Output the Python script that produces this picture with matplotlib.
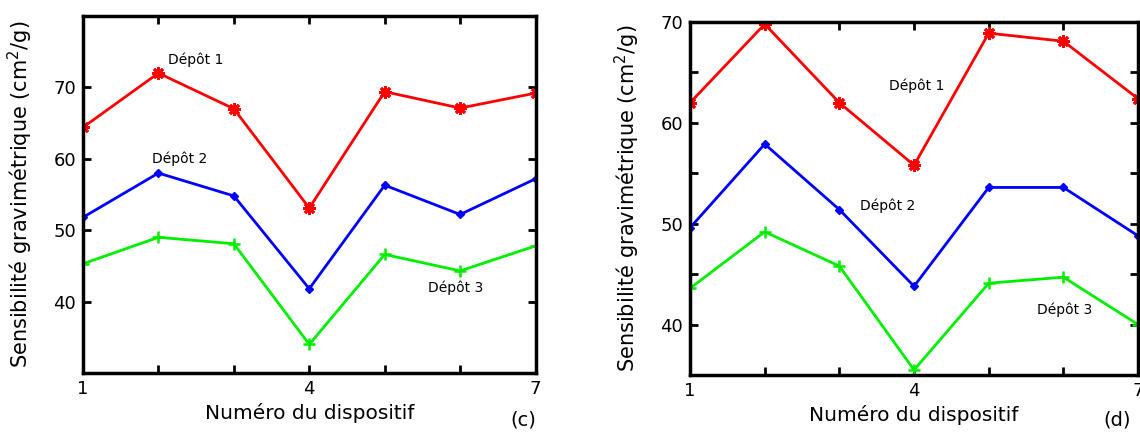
import matplotlib.pyplot as plt

devices = [1, 2, 3, 4, 5, 6, 7]

# panel (c)
c_dep1 = [64.4, 72.0, 67.0, 53.1, 69.4, 67.1, 69.2]
c_dep2 = [51.8, 58.0, 54.8, 41.8, 56.3, 52.2, 57.2]
c_dep3 = [45.3, 49.0, 48.1, 34.0, 46.6, 44.3, 47.8]

# panel (d)
d_dep1 = [62.0, 69.8, 62.0, 55.8, 68.9, 68.1, 62.4]
d_dep2 = [49.6, 57.9, 51.4, 43.8, 53.6, 53.6, 48.8]
d_dep3 = [43.6, 49.2, 45.8, 35.5, 44.1, 44.7, 40.0]

xtick_labels = ["1", "", "", "4", "", "", "7"]
ylabel = "Sensibilité gravimétrique (cm$^2$/g)"
xlabel = "Numéro du dispositif"

star = (8, 2, 0)


def draw(ax, d1, d2, d3, yticks, ylabels, ylim):
    ax.plot(devices, d1, color="#ff0000", lw=2, marker=star, ms=9, mew=2)
    ax.plot(devices, d2, color="#0000ff", lw=2, marker="D", ms=4)
    ax.plot(devices, d3, color="#00ee00", lw=2, marker="+", ms=8, mew=1.8)
    ax.set_xlim(1, 7)
    ax.set_ylim(*ylim)
    ax.set_xticks(devices)
    ax.set_xticklabels(xtick_labels)
    ax.set_yticks(yticks)
    ax.set_yticklabels(ylabels)
    ax.tick_params(direction="in", top=True, right=True, length=6, width=2,
                   labelsize=13, pad=5)
    for s in ax.spines.values():
        s.set_linewidth(2.5)
    ax.set_xlabel(xlabel, fontsize=14.5, labelpad=4)
    ax.set_ylabel(ylabel, fontsize=15, labelpad=13)


fig = plt.figure(figsize=(11.4, 4.33), dpi=100)

ax1 = fig.add_axes([0.0728, 0.1386, 0.397, 0.8245])
draw(ax1, c_dep1, c_dep2, c_dep3, [40, 50, 60, 70], ["40", "50", "60", "70"], (30, 80))
ax1.text(2.13, 73.9, "Dépôt 1", fontsize=10, va="center")
ax1.text(1.91, 60.0, "Dépôt 2", fontsize=10, va="center")
ax1.text(5.57, 42.0, "Dépôt 3", fontsize=10, va="center")
fig.text(523 / 1140, 1 - 420 / 433, "(c)", fontsize=14, ha="center", va="center")

ax2 = fig.add_axes([0.6053, 0.134, 0.393, 0.815])
draw(ax2, d_dep1, d_dep2, d_dep3, [40, 45, 50, 55, 60, 65, 70],
     ["40", "", "50", "", "60", "", "70"], (35, 70))
ax2.text(3.66, 63.7, "Dépôt 1", fontsize=10, va="center")
ax2.text(3.28, 51.8, "Dépôt 2", fontsize=10, va="center")
ax2.text(5.64, 41.5, "Dépôt 3", fontsize=10, va="center")
fig.text(1117 / 1140, 1 - 420 / 433, "(d)", fontsize=14, ha="center", va="center")

fig.savefig("out.png", dpi=100)
